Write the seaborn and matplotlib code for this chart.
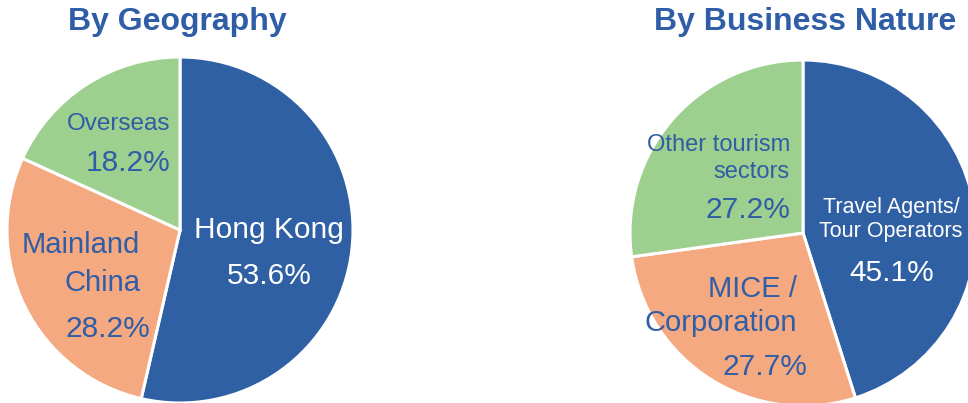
import seaborn as sns
import matplotlib.pyplot as plt

sns.set_theme(style='white')
plt.rcParams['font.family'] = ['Liberation Sans', 'DejaVu Sans']

# data
geo_labels = ['Hong Kong', 'Mainland China', 'Overseas']
geo_values = [53.6, 28.2, 18.2]
biz_labels = ['Travel Agents/ Tour Operators', 'MICE / Corporation', 'Other tourism sectors']
biz_values = [45.1, 27.7, 27.2]

colors = ['#3060A4', '#F5A981', '#9DCF8F']
txt_blue = '#2F5DA6'

fig = plt.figure(figsize=(9.68, 4.03), dpi=100)
ax = fig.add_axes([0, 0, 1, 1])

H = 403
wp = dict(edgecolor='white', linewidth=2.2)
ax.pie(geo_values, colors=colors, startangle=90, counterclock=False,
       center=(180, H - 230), radius=173, wedgeprops=wp)
ax.pie(biz_values, colors=colors, startangle=90, counterclock=False,
       center=(803, H - 233), radius=173, wedgeprops=wp)
ax.set_xlim(0, 968)
ax.set_ylim(0, H)
ax.set_aspect('equal')
ax.axis('off')

def t(x, y, s, size, color=txt_blue, ha='center', weight='normal'):
    ax.text(x, H - y, s, fontsize=size, color=color, ha=ha, va='center', fontweight=weight)

# titles
t(177, 22, 'By Geography', 23, weight='bold')
t(805, 22, 'By Business Nature', 23, weight='bold')

# left pie labels
t(170, 124, 'Overseas', 17.5, ha='right')
t(170, 163, '18.2%', 21.5, ha='right')
t(140, 245, 'Mainland', 21, ha='right')
t(140, 283, 'China', 21, ha='right')
t(150, 329, '28.2%', 21.5, ha='right')
t(269, 230, 'Hong Kong', 21.5, color='white')
t(269, 276, '53.6%', 21.5, color='white')

# right pie labels
t(790, 145, 'Other tourism', 17, ha='right')
t(790, 172, 'sectors', 17, ha='right')
t(790, 210, '27.2%', 21.5, ha='right')
t(891, 208, 'Travel Agents/', 15.5, color='white')
t(891, 232, 'Tour Operators', 15.5, color='white')
t(892, 273, '45.1%', 21.5, color='white')
t(797, 289, 'MICE /', 21, ha='right')
t(797, 323, 'Corporation', 21, ha='right')
t(807, 367, '27.7%', 21.5, ha='right')

fig.savefig('out.png', dpi=100)
